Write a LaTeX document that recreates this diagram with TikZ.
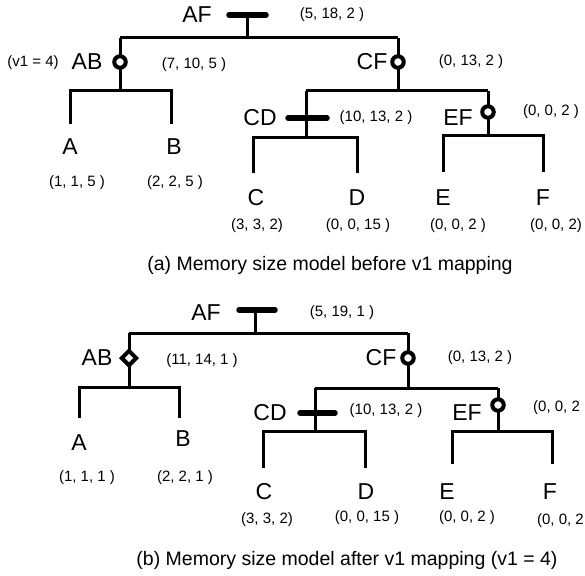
\documentclass[tikz,border=0pt]{standalone}
\usepackage{fontspec}
\setmainfont{Liberation Sans}
\usetikzlibrary{shapes.geometric}
\begin{document}
\begin{tikzpicture}[x=1pt,y=-1pt,
  edge/.style={line width=3pt},
  tbar/.style={line width=5.5pt, line cap=round},
  ring/.style={circle, draw, fill=white, line width=4pt, minimum size=11.5pt, inner sep=0pt},
  rhomb/.style={diamond, draw, fill=white, line width=4pt, minimum size=16pt, inner sep=0pt},
  lab/.style={font=\fontsize{23}{25}\selectfont, inner sep=0pt},
  num/.style={font=\fontsize{15}{17}\selectfont, inner sep=0pt},
  capt/.style={font=\fontsize{19.5}{22}\selectfont, inner sep=0pt}]
\useasboundingbox (0,0) rectangle (585,575);

% ================= (a) =================
% AF
\coordinate (aAFl) at (229,15);
\coordinate (aAFc) at (247,15);
\coordinate (aAFr) at (266,15);
\coordinate (aAFj) at (247,38);
\coordinate (aABt) at (120,38);
\coordinate (aCFt) at (398,38);
\draw[edge] (aABt) -- (aCFt);
\draw[edge] (aAFc) -- (aAFj);
\draw[tbar] (aAFl) -- (aAFr);
\node[lab] (aAF) at (197,15) {AF};
\node[num] (aAFn) at (332,15) {(5, 18, 2 )};

% AB
\coordinate (aABj) at (120,91);
\coordinate (aAe) at (70,124);
\coordinate (aBe) at (171,124);
\draw[edge] (aABt) -- (aABj);
\draw[edge] (aAe) |- (aABj) -| (aBe);
\node[ring] (aABs) at (120,62) {};
\node[lab] (aAB) at (87,62) {AB};
\node[num] (aV1) at (33,63) {(v1 = 4)};
\node[num] (aABn) at (194,65) {(7, 10, 5 )};
\node[lab] (aA) at (70,147) {A};
\node[lab] (aB) at (174,147) {B};
\node[num] (aAn) at (77,183) {(1, 1, 5 )};
\node[num] (aBn) at (175,183) {(2, 2, 5 )};

% CF
\coordinate (aCFj) at (398,91);
\coordinate (aCDt) at (306,91);
\coordinate (aEFt) at (488,91);
\draw[edge] (aCFt) -- (aCFj);
\draw[edge] (aCDt) -- (aEFt);
\node[ring] (aCFs) at (398,62) {};
\node[lab] (aCF) at (372,62) {CF};
\node[num] (aCFn) at (471,62) {(0, 13, 2 )};

% CD
\coordinate (aCDj) at (306,137);
\coordinate (aCDl) at (288,118);
\coordinate (aCDr) at (327,118);
\coordinate (aCe) at (253,173);
\coordinate (aDe) at (357,173);
\draw[edge] (aCDt) -- (aCDj);
\draw[edge] (aCe) |- (aCDj) -| (aDe);
\draw[tbar] (aCDl) -- (aCDr);
\node[lab] (aCD) at (260,118) {CD};
\node[num] (aCDn) at (376,118) {(10, 13, 2 )};
\node[lab] (aC) at (256,198) {C};
\node[lab] (aD) at (357,198) {D};
\node[num] (aCn) at (257,226) {(3, 3, 2)};
\node[num] (aDn) at (358,226) {(0, 0, 15 )};

% EF
\coordinate (aEFj) at (488,135);
\coordinate (aEe) at (443,172);
\coordinate (aFe) at (543,172);
\draw[edge] (aEFt) -- (aEFj);
\draw[edge] (aEe) |- (aEFj) -| (aFe);
\node[ring] (aEFs) at (488,112) {};
\node[lab] (aEF) at (458,118) {EF};
\node[num] (aEFn) at (551,112) {(0, 0, 2 )};
\node[lab] (aE) at (443,198) {E};
\node[lab] (aF) at (543,198) {F};
\node[num] (aEn) at (458,226) {(0, 0, 2 )};
\node[num] (aFn) at (556,226) {(0, 0, 2)};

\node[capt] (capA) at (330,265) {(a) Memory size model before v1 mapping};

% ================= (b) =================
\coordinate (bAFl) at (239,310);
\coordinate (bAFc) at (255,310);
\coordinate (bAFr) at (275,310);
\coordinate (bAFj) at (255,333);
\coordinate (bABt) at (129,333);
\coordinate (bCFt) at (408,333);
\draw[edge] (bABt) -- (bCFt);
\draw[edge] (bAFc) -- (bAFj);
\draw[tbar] (bAFl) -- (bAFr);
\node[lab] (bAF) at (206,313) {AF};
\node[num] (bAFn) at (342,313) {(5, 19, 1 )};

% AB
\coordinate (bABj) at (129,387);
\coordinate (bAe) at (79,418);
\coordinate (bBe) at (179,418);
\draw[edge] (bABt) -- (bABj);
\draw[edge] (bAe) |- (bABj) -| (bBe);
\node[rhomb] (bABs) at (129,358) {};
\node[lab] (bAB) at (97,358) {AB};
\node[num] (bABn) at (202,361) {(11, 14, 1 )};
\node[lab] (bA) at (79,443) {A};
\node[lab] (bB) at (183,439) {B};
\node[num] (bAn) at (87,478) {(1, 1, 1 )};
\node[num] (bBn) at (185,478) {(2, 2, 1 )};

% CF
\coordinate (bCFj) at (408,388);
\coordinate (bCDt) at (315,388);
\coordinate (bEFt) at (498,388);
\draw[edge] (bCFt) -- (bCFj);
\draw[edge] (bCDt) -- (bEFt);
\node[ring] (bCFs) at (408,358) {};
\node[lab] (bCF) at (381,358) {CF};
\node[num] (bCFn) at (480,358) {(0, 13, 2 )};

% CD
\coordinate (bCDj) at (315,431);
\coordinate (bCDl) at (300,413);
\coordinate (bCDr) at (335,413);
\coordinate (bCe) at (263,468);
\coordinate (bDe) at (365,468);
\draw[edge] (bCDt) -- (bCDj);
\draw[edge] (bCe) |- (bCDj) -| (bDe);
\draw[tbar] (bCDl) -- (bCDr);
\node[lab] (bCD) at (270,413) {CD};
\node[num] (bCDn) at (386,411) {(10, 13, 2 )};
\node[lab] (bC) at (264,492) {C};
\node[lab] (bD) at (366,492) {D};
\node[num] (bCn) at (267,520) {(3, 3, 2)};
\node[num] (bDn) at (367,518) {(0, 0, 15 )};

% EF
\coordinate (bEFj) at (498,431);
\coordinate (bEe) at (452,464);
\coordinate (bFe) at (552,464);
\draw[edge] (bEFt) -- (bEFj);
\draw[edge] (bEe) |- (bEFj) -| (bFe);
\node[ring] (bEFs) at (498,405) {};
\node[lab] (bEF) at (467,413) {EF};
\node[num, anchor=west] (bEFn) at (533,408) {(0, 0, 2};
\node[lab] (bE) at (447,492) {E};
\node[lab] (bF) at (550,492) {F};
\node[num] (bEn) at (467,518) {(0, 0, 2 )};
\node[num, anchor=east] (bFn) at (584,521) {(0, 0, 2};

\node[capt] (capB) at (347,560) {(b) Memory size model after v1 mapping (v1 = 4)};
\end{tikzpicture}
\end{document}
